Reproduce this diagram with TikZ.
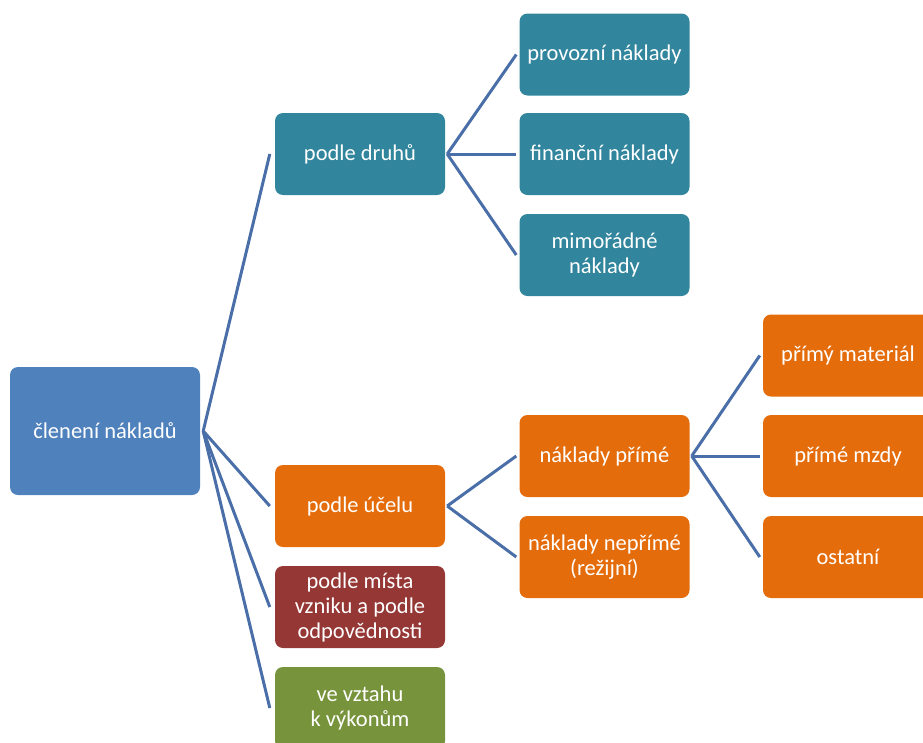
\documentclass[tikz,border=0pt]{standalone}
\usepackage{fontspec}
\setmainfont{Carlito}
\definecolor{rootblue}{HTML}{4F81BD}
\definecolor{druhteal}{HTML}{31859C}
\definecolor{ucelorange}{HTML}{E46C0A}
\definecolor{mistored}{HTML}{953735}
\definecolor{vykongreen}{HTML}{77933C}
\definecolor{linkblue}{HTML}{4A6FA8}
\begin{document}
\begin{tikzpicture}[x=1pt, y=-1pt,
        box/.style={rectangle, rounded corners=8pt, text=white, align=center,
          inner sep=2pt, minimum width=170pt, minimum height=82pt,
          font=\fontsize{22.5}{25}\selectfont},
        rootbox/.style={box, fill=rootblue, minimum width=190pt, minimum height=128pt},
        druh/.style={box, fill=druhteal},
        ucel/.style={box, fill=ucelorange},
        misto/.style={box, fill=mistored},
        vykon/.style={box, fill=vykongreen},
        link/.style={draw=linkblue, line width=3pt},
      ]
      \useasboundingbox (0,0) rectangle (923,742);

      %Nodes
      \node[rootbox] (root)     at (105,431)   {členení nákladů};

      \node[druh]    (druhy)    at (360,154)   {podle druhů};
      \node[ucel]    (ucel)     at (360,506)   {podle účelu};
      \node[misto]   (misto)    at (360,607)   {podle místa\\vzniku a podle\\odpovědnosti};
      \node[vykon]   (vykon)    at (360,708)   {ve vztahu\\k výkonům};

      \node[druh]    (provozni) at (604.5,54.5) {provozní náklady};
      \node[druh]    (financni) at (604.5,154)  {finanční náklady};
      \node[druh]    (mimor)    at (604.5,255)  {mimořádné\\náklady};

      \node[ucel]    (prime)    at (604.5,456)  {náklady přímé};
      \node[ucel]    (neprime)  at (604.5,557)  {náklady nepřímé\\(režijní)};

      \node[ucel]    (material) at (848,355.5)  {přímý materiál};
      \node[ucel]    (mzdy)     at (848,456)    {přímé mzdy};
      \node[ucel]    (ostatni)  at (848,557)    {ostatní};

      %Lines
      \foreach \child in {druhy, ucel, misto, vykon}
        \draw[link] ([xshift=3pt]root.east) -- ([xshift=-5pt]\child.west);
      \foreach \child in {provozni, financni, mimor}
        \draw[link] ([xshift=2pt]druhy.east) -- ([xshift=-3pt]\child.west);
      \foreach \child in {prime, neprime}
        \draw[link] ([xshift=2pt]ucel.east) -- ([xshift=-3pt]\child.west);
      \foreach \child in {material, mzdy, ostatni}
        \draw[link] ([xshift=2pt]prime.east) -- ([xshift=-3pt]\child.west);
    \end{tikzpicture}
\end{document}
